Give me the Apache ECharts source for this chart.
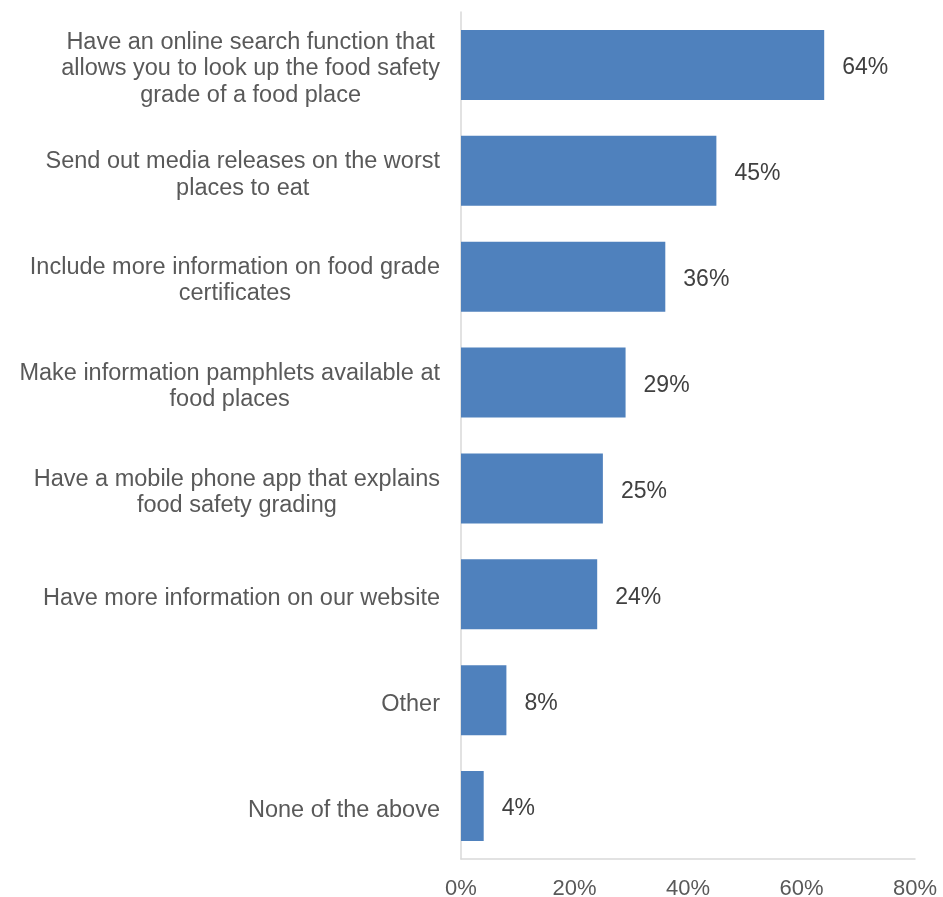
<!DOCTYPE html>
<html>
<head>
<meta charset="utf-8">
<script src="https://cdn.jsdelivr.net/npm/echarts@6/dist/echarts.min.js"></script>
<style>
  html, body { margin: 0; padding: 0; background: #ffffff; }
  #chart { width: 943px; height: 897px; }
</style>
</head>
<body>
<div id="chart"></div>
<script>
// Survey options (label lines) and share of respondents, in percent
const categories = [
  ['Have an online search function that', 'allows you to look up the food safety', 'grade of a food place'],
  ['Send out media releases on the worst', 'places to eat'],
  ['Include more information on food grade', 'certificates'],
  ['Make information pamphlets available at', 'food places'],
  ['Have a mobile phone app that explains', 'food safety grading'],
  ['Have more information on our website'],
  ['Other'],
  ['None of the above']
];
const values = [64, 45, 36, 29, 25, 24, 8, 4];
const xTicks = [0, 20, 40, 60, 80];

const chart = echarts.init(document.getElementById('chart'), null, { renderer: 'canvas' });

const font = '"Liberation Sans", Arial, sans-serif';

chart.setOption({
  backgroundColor: '#ffffff',
  animation: false,
  grid: {
    left: 461, right: 28, top: 12, bottom: 38,
    containLabel: false,
    outerBoundsMode: 'none'
  },
  xAxis: {
    type: 'value',
    min: xTicks[0],
    max: xTicks[xTicks.length - 1],
    interval: xTicks[1] - xTicks[0],
    axisLine: { show: true, lineStyle: { color: '#d9d9d9', width: 1.5 } },
    axisTick: { show: false },
    splitLine: { show: false },
    axisLabel: {
      formatter: '{value}%',
      color: '#595959',
      fontFamily: font,
      fontSize: 22,
      margin: 19
    }
  },
  yAxis: {
    type: 'category',
    inverse: true,
    data: categories.map(lines => lines.join('\n')),
    axisLine: { show: true, lineStyle: { color: '#d9d9d9', width: 1.5 } },
    axisTick: { show: false },
    splitLine: { show: false },
    axisLabel: {
      margin: 21,
      align: 'right',
      padding: [8, 0, 0, 0],
      formatter: v => v.split('\n').map(s => '{c|' + s + '}').join('\n'),
      rich: {
        c: {
          align: 'center',
          color: '#595959',
          fontFamily: font,
          fontSize: 23.5,
          lineHeight: 26.5
        }
      }
    }
  },
  series: [{
    type: 'bar',
    data: values,
    barCategoryGap: '34%',
    itemStyle: { color: '#4f81bd' },
    label: {
      show: true,
      position: 'right',
      distance: 18,
      offset: [0, 3],
      formatter: '{c}%',
      color: '#404040',
      fontFamily: font,
      fontSize: 23
    }
  }]
});
</script>
</body>
</html>
